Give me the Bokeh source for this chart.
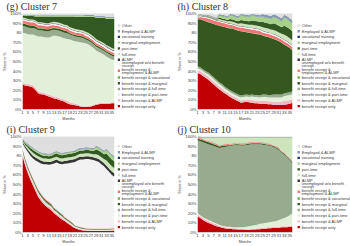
from bokeh.plotting import figure
from bokeh.models import ColumnDataSource, FixedTicker, Range1d
from bokeh.layouts import row, column
from bokeh.core.properties import value
from bokeh.embed import file_html
from bokeh.resources import INLINE

months = list(range(1, 37))
x_ticks = [1, 3, 5, 7, 9, 11, 13, 15, 17, 19, 21, 23, 25, 27, 29, 31, 33, 35]
y_ticks = [0, 10, 20, 30, 40, 50, 60, 70, 80, 90, 100]
y_tick_labels = ["0%", "10%", "20%", "30%", "40%", "50%", "60%", "70%", "80", "90%", "100%"]

# stacking order, bottom -> top
keys = ["benefit_only", "benefit_almp", "benefit_parttime", "benefit_fulltime", "benefit_marginal",
        "benefit_vocational", "benefit_emp_almp", "unemployed", "almp", "fulltime", "parttime",
        "marginal", "vocational", "employed_almp", "other"]
labels = ["benefit receipt only", "benefit receipt & ALMP", "benefit receipt & part-time",
          "benefit receipt & full-time", "benefit receipt & marginal", "benefit receipt & vocational",
          "benefit receipt &\nemployment & ALMP", "unemployed w/o benefit\nreceipt", "ALMP", "full-time",
          "part-time", "marginal employment", "vocational training", "Employed & ALMP", "Other"]
colors = ["#c00000", "#f4b8c2", "#e2efd9", "#97ab8f", "#35581f", "#70ad47", "#f07474", "#f2f2f2",
          "#363636", "#cde4bd", "#335a22", "#a9d18e", "#1f3864", "#8497b0", "#dedede"]

# ---------------- Cluster 7 ----------------
c7_benefit_only = [26, 25, 24.5, 24, 23, 20, 17, 16, 15.5, 14.5, 13.5, 12.5, 11.5, 11, 10, 9, 8, 6.5, 5.5, 5,
                   4.5, 4, 3, 2.5, 2.5, 2.5, 3, 4, 5, 5.5, 6, 6, 6, 6, 6.5, 6.5]
c7_benefit_almp = [2, 2, 2, 2, 2.5, 2.5, 2, 2, 2, 2, 2, 2, 2, 2, 2, 2, 2.5, 2.5, 2, 2,
                   1.5, 1.5, 1, 1, 1, 1, 1, 1, 1, 1, 1, 1, 1, 1, 1, 1]
c7_benefit_parttime = [52, 52.5, 52, 52, 52.5, 54.5, 57, 58, 58, 58.5, 59.5, 61.5, 63.5, 63.5, 64, 64, 63.5, 64.5, 65.5, 65,
                       65, 65, 66, 66, 65.5, 64.5, 62, 59, 55.5, 53.5, 51.5, 50, 48, 46.5, 44.5, 43.5]
c7_benefit_fulltime = [7, 7, 7, 7, 7, 7, 6.5, 6.5, 6.5, 6.5, 6.5, 6.5, 6, 6, 6, 6, 6, 6, 5, 5,
                       5, 5, 5, 5, 4, 4, 4, 4, 4, 4, 4, 4, 4, 4, 4, 4]
c7_benefit_marginal = [2.5, 2.5, 2.5, 2.5, 2.5, 2.5, 2, 2, 2, 2, 2, 2, 2, 2, 2, 2, 2, 2, 1.5, 1.5,
                       1.5, 1.5, 1.5, 1.5, 1.5, 1.5, 1.5, 1.5, 1.5, 1.5, 1.5, 1.5, 1.5, 1.5, 1.5, 1.5]
c7_benefit_vocational = [0.3, 0.3, 0.3, 0.3, 0.3, 0.3, 0.3, 0.3, 0.3, 0.3, 0.3, 0.3, 0.3, 0.3, 0.3, 0.3, 0.3, 0.3, 0.3, 0.3,
                         0.3, 0.3, 0.3, 0.3, 0.3, 0.3, 0.3, 0.3, 0.3, 0.3, 0.3, 0.3, 0.3, 0.3, 0.3, 0.3]
c7_benefit_emp_almp = [3, 3, 3, 3, 3, 3, 3, 3, 3, 3, 3, 3, 2.5, 2.5, 2.5, 2.5, 2.5, 2.5, 2.5, 2.5,
                       2.5, 2.5, 2.5, 2.5, 2, 2, 2, 2, 2, 2, 2, 2, 2, 2, 2, 2]
c7_unemployed = [1.5, 1.5, 1.5, 1.5, 1.5, 1.5, 1.5, 1.5, 1.5, 1.5, 1.5, 1.5, 1.5, 1.5, 1.5, 1.5, 1.5, 1.5, 1.5, 1.5,
                 1.5, 1.5, 1.5, 1.5, 2, 2, 2, 2, 2, 2, 2, 2, 2, 2, 2, 2]
c7_almp = [0.5, 0.5, 0.5, 0.5, 0.5, 0.5, 0.5, 0.5, 0.5, 0.5, 0.5, 0.5, 0.5, 0.5, 0.5, 0.5, 0.5, 0.5, 0.5, 0.5,
           0.5, 0.5, 0.5, 0.5, 0.7, 0.7, 0.7, 0.7, 0.7, 0.7, 0.7, 0.7, 0.7, 0.7, 0.7, 0.7]
c7_fulltime = [1, 1, 1, 1, 1, 1, 1, 1, 1, 1, 1, 1, 1.5, 1.5, 1.5, 1.5, 1.5, 1.5, 1.5, 1.5,
               1.5, 1.5, 1.5, 1.5, 1.5, 1.5, 1.5, 1.5, 1.5, 1.5, 1.5, 1.5, 1.5, 1.5, 1.5, 1.5]
c7_parttime = [1.7, 2.2, 3.2, 3.7, 3.7, 4.2, 6.2, 6.2, 6.7, 7.2, 7.2, 6.2, 5.7, 6.2, 6.7, 7.7, 8.7, 9.2, 11.2, 12.2,
               12.7, 13.2, 13.7, 14.2, 15.5, 16.5, 18.5, 20.5, 22, 23.5, 25, 26.5, 27.5, 29, 30.5, 31.5]
c7_marginal = [0.5, 0.5, 0.5, 0.5, 0.5, 0.5, 0.5, 0.5, 0.5, 0.5, 0.5, 0.5, 0.8, 0.8, 0.8, 0.8, 0.8, 0.8, 0.8, 0.8,
               0.8, 0.8, 0.8, 0.8, 0.8, 0.8, 0.8, 0.8, 0.8, 0.8, 0.8, 0.8, 0.8, 0.8, 0.8, 0.8]
c7_vocational = [0.2, 0.2, 0.2, 0.2, 0.2, 0.2, 0.2, 0.2, 0.2, 0.2, 0.2, 0.2, 0.2, 0.2, 0.2, 0.2, 0.2, 0.2, 0.2, 0.2,
                 0.2, 0.2, 0.2, 0.2, 0.2, 0.2, 0.2, 0.2, 0.2, 0.2, 0.2, 0.2, 0.2, 0.2, 0.2, 0.2]
c7_employed_almp = [0.5, 0.5, 0.5, 0.5, 0.5, 0.5, 0.5, 0.5, 0.5, 0.5, 0.5, 0.5, 0.8, 0.8, 0.8, 0.8, 0.8, 0.8, 0.8, 0.8,
                    0.8, 0.8, 0.8, 0.8, 1, 1, 1, 1, 1, 1, 1, 1, 1, 1, 1, 1]
c7_other = [2.5, 2.5, 2.5, 2.5, 2.5, 2.5, 2.5, 2.5, 2.5, 2.5, 2.5, 2.5, 2.5, 2.5, 2.5, 2.5, 2.5, 2.5, 2.5, 2.5,
            3, 3, 3, 3, 3, 3, 3, 3, 4, 4, 4, 4, 4.5, 4.5, 4.5, 4.5]

# ---------------- Cluster 8 ----------------
c8_benefit_only = [38, 37, 35, 33, 31, 28.5, 26, 23.5, 21, 19, 17, 15, 13, 11.5, 10, 8.5, 7, 7.5, 8, 7.5,
                   7, 6.5, 6.5, 6, 6, 6, 5.5, 5.5, 5, 5, 5, 5, 5, 5.5, 6, 7]
c8_benefit_almp = [3, 3, 3, 3, 3, 3, 3, 3, 3, 3, 2.5, 2.5, 2.5, 2.5, 2.5, 2.5, 2.5, 2.5, 2.5, 2.5,
                   3, 3, 3, 3, 3, 3, 3, 3, 3, 3, 3, 3, 4, 4, 4, 4]
c8_benefit_parttime = [2, 2, 2, 2, 2.5, 2.5, 2.5, 2.5, 2.5, 2.5, 2.5, 2.5, 2.5, 2.5, 2.5, 2.5, 3, 3, 3, 3,
                       3.5, 3.5, 3.5, 3.5, 4, 4, 4, 4, 4.5, 4.5, 4.5, 4.5, 5, 5, 5, 5]
c8_benefit_fulltime = [2, 2, 2, 2, 2, 2, 2, 2, 2, 2, 2, 2, 2, 2, 2, 2, 2, 2, 2, 2,
                       2, 2, 2, 2, 2.5, 2.5, 2.5, 2.5, 3, 3, 3, 3, 3, 3, 3, 3]
c8_benefit_marginal = [49, 50, 51, 52, 52.5, 54, 55.5, 57, 59, 60, 62, 63, 64.5, 65.5, 66, 66.5, 67, 66, 65, 65,
                       64, 64, 63.5, 63.5, 61.5, 60.5, 60.5, 59.5, 58, 57, 55.5, 54, 50.5, 48.5, 46, 42.5]
c8_benefit_vocational = [0.3, 0.3, 0.3, 0.3, 0.3, 0.3, 0.3, 0.3, 0.3, 0.3, 0.3, 0.3, 0.3, 0.3, 0.3, 0.3, 0.3, 0.3, 0.3, 0.3,
                         0.3, 0.3, 0.3, 0.3, 0.3, 0.3, 0.3, 0.3, 0.3, 0.3, 0.3, 0.3, 0.3, 0.3, 0.3, 0.3]
c8_benefit_emp_almp = [1.5, 2, 2.5, 3, 3.5, 3.5, 3.5, 3.5, 3.5, 3.5, 3.5, 3.5, 3.5, 3.5, 3.5, 3.5, 3.5, 3.5, 3.5, 3.5,
                       3.5, 3.5, 3.5, 3.5, 3, 3, 3, 3, 3, 3, 3, 3, 3, 3, 3, 3]
c8_unemployed = [1, 1, 1, 1, 1, 1, 1, 1, 1, 1, 1, 1, 1, 1, 1, 1, 1.5, 1.5, 1.5, 1.5,
                 1.5, 1.5, 1.5, 1.5, 1.5, 1.5, 1.5, 1.5, 1.5, 1.5, 1.5, 1.5, 1.5, 1.5, 1.5, 1.5]
c8_almp = [0.5, 0.5, 0.5, 0.5, 0.5, 0.5, 0.5, 0.5, 0.5, 0.5, 0.5, 0.5, 0.5, 0.5, 0.5, 0.5, 0.5, 0.5, 0.5, 0.5,
           0.5, 0.5, 0.5, 0.5, 0.5, 0.5, 0.5, 0.5, 0.5, 0.5, 0.5, 0.5, 0.5, 0.5, 0.5, 0.5]
c8_fulltime = [0.3, 0.3, 0.3, 0.3, 0.3, 0.3, 0.3, 0.3, 1.5, 1.5, 1.5, 1.5, 2, 2, 2, 2, 2.5, 2.5, 2.5, 2.5,
               3, 3, 3, 3, 3.5, 3.5, 3.5, 3.5, 4, 4, 4, 4, 5, 5, 5, 5]
c8_parttime = [0.2, 0.2, 0.2, 0.2, 0.5, 0.5, 0.5, 0.5, 1.5, 1.5, 1.5, 1.5, 2.5, 2.5, 2.5, 2.5, 3.5, 3.5, 3.5, 3.5,
               4.5, 4.5, 4.5, 4.5, 5.5, 5.5, 5.5, 5.5, 7, 7, 7, 7, 9.5, 9.5, 9.5, 9.5]
c8_marginal = [0.3, 0.3, 0.3, 0.3, 0.8, 0.8, 0.8, 0.8, 2.5, 2.5, 2.5, 2.5, 3.5, 3.5, 3.5, 3.5, 4.5, 4.5, 4.5, 4.5,
               5, 5, 5, 5, 5.5, 5.5, 5.5, 5.5, 6.5, 6.5, 6.5, 6.5, 8.5, 8.5, 8.5, 8.5]
c8_vocational = [0.3, 0.3, 0.3, 0.3, 0.3, 0.3, 0.3, 0.3, 0.3, 0.3, 0.3, 0.3, 0.3, 0.3, 0.3, 0.3, 0.3, 0.3, 0.3, 0.3,
                 0.3, 0.3, 0.3, 0.3, 0.3, 0.3, 0.3, 0.3, 0.3, 0.3, 0.3, 0.3, 0.3, 0.3, 0.3, 0.3]
c8_employed_almp = [0.5, 0.5, 0.5, 0.5, 0.5, 0.5, 0.5, 0.5, 1, 1, 1, 1, 1.5, 1.5, 1.5, 1.5, 1.5, 1.5, 1.5, 1.5,
                    1.5, 1.5, 1.5, 1.5, 2.5, 2.5, 2.5, 2.5, 2.5, 2.5, 2.5, 2.5, 2.5, 2.5, 2.5, 2.5]
c8_other = [3, 3, 3, 3, 3, 3, 3, 3, 3, 3, 4, 4, 4, 4, 4, 4, 4, 4, 4, 4,
            5, 5, 5, 5, 5, 5, 5, 5, 9, 9, 9, 9, 9, 9, 9, 9]

# ---------------- Cluster 9 ----------------
c9_benefit_only = [80, 70, 62, 55, 49, 43, 37, 33, 30, 27, 25, 23, 20, 18, 15.5, 13.5, 12, 10, 8, 6,
                   4.5, 3.5, 2.5, 2, 1.8, 1.6, 1.5, 1.5, 1.5, 1.5, 1.5, 1.5, 1.5, 1.5, 1.8, 2]
c9_benefit_almp = [2.5, 2.5, 2.5, 2.5, 2.5, 2.5, 2.5, 2.5, 2, 2, 2, 2, 1.8, 1.8, 1.8, 1.8, 1.2, 1.2, 1.2, 1.2,
                   0.8, 0.8, 0.8, 0.8, 0.7, 0.7, 0.7, 0.7, 0.7, 0.7, 0.7, 0.7, 0.7, 0.7, 0.7, 0.7]
c9_benefit_parttime = [1.5, 1.5, 1.5, 1.5, 1.5, 1.5, 1.5, 1.5, 1.5, 1.5, 1.5, 1.5, 1.2, 1.2, 1.2, 1.2, 1, 1, 1, 1,
                       0.8, 0.8, 0.8, 0.8, 0.7, 0.7, 0.7, 0.7, 0.7, 0.7, 0.7, 0.7, 0.7, 0.7, 0.7, 0.7]
c9_benefit_fulltime = [1, 1, 1, 1, 1, 1, 1, 1, 1, 1, 1, 1, 0.8, 0.8, 0.8, 0.8, 0.5, 0.5, 0.5, 0.5,
                       0.3, 0.3, 0.3, 0.3, 0.3, 0.3, 0.3, 0.3, 0.3, 0.3, 0.3, 0.3, 0.3, 0.3, 0.3, 0.3]
c9_benefit_marginal = [1.5, 1.5, 1.5, 1.5, 1.5, 1.5, 1.5, 1.5, 1.5, 1.5, 1.5, 1.5, 1.2, 1.2, 1.2, 1.2, 1, 1, 1, 1,
                       0.7, 0.7, 0.7, 0.7, 0.5, 0.5, 0.5, 0.5, 0.5, 0.5, 0.5, 0.5, 0.5, 0.5, 0.5, 0.5]
c9_benefit_vocational = [0.3, 0.3, 0.3, 0.3, 0.3, 0.3, 0.3, 0.3, 0.3, 0.3, 0.3, 0.3, 0.2, 0.2, 0.2, 0.2, 0.2, 0.2, 0.2, 0.2,
                         0.2, 0.2, 0.2, 0.2, 0.2, 0.2, 0.2, 0.2, 0.2, 0.2, 0.2, 0.2, 0.2, 0.2, 0.2, 0.2]
c9_benefit_emp_almp = [1, 1, 1, 1, 1, 1, 1, 1, 1, 1, 1, 1, 0.8, 0.8, 0.8, 0.8, 0.5, 0.5, 0.5, 0.5,
                       0.3, 0.3, 0.3, 0.3, 0.3, 0.3, 0.3, 0.3, 0.3, 0.3, 0.3, 0.3, 0.3, 0.3, 0.3, 0.3]
c9_unemployed = [5.2, 10.2, 14.2, 17.2, 20.2, 24.2, 28.7, 31.2, 33.7, 36.7, 38.2, 40.7, 46, 49, 50, 51.5, 55.1, 57.6, 60.1, 62.6,
                 65.9, 68.4, 70.4, 70.9, 72, 72.2, 71.8, 71.3, 70.3, 69.3, 66.8, 64.8, 61.8, 58.8, 55.5, 53.3]
c9_almp = [1.5, 2, 2.5, 3, 3, 3, 3, 3, 3, 3, 3, 3, 3, 3, 3, 3, 3, 3, 3, 3,
           3, 3, 3, 3, 3, 3, 3, 3, 3, 3, 3.5, 3.5, 3.5, 3.5, 3.5, 3.5]
c9_fulltime = [1, 1.5, 2, 2.5, 3, 3, 3, 3, 3, 3, 3, 3, 3, 3, 3, 3, 3, 3, 3, 3,
               3, 3, 3, 3, 3, 3, 3, 3, 4, 4, 4, 4, 5.5, 5.5, 5.5, 5.5]
c9_parttime = [1, 1.5, 2, 2.5, 3, 3, 3, 3, 3, 3, 3, 3, 3.5, 3.5, 3.5, 3.5, 3.5, 3.5, 3.5, 3.5,
               3.5, 3.5, 3.5, 3.5, 3.5, 3.5, 3.5, 3.5, 5, 5, 5, 5, 7, 7, 7, 7]
c9_marginal = [0.5, 1, 1.2, 1.5, 1.5, 1.5, 1.5, 1.5, 1.5, 1.5, 1.5, 1.5, 1.5, 1.5, 1.5, 1.5, 1.5, 1.5, 1.5, 1.5,
               1.5, 1.5, 1.5, 1.5, 1.5, 1.5, 1.5, 1.5, 2.5, 2.5, 2.5, 2.5, 4, 4, 4, 4]
c9_vocational = [0.3, 0.3, 0.3, 0.3, 0.3, 0.3, 0.3, 0.3, 0.3, 0.3, 0.3, 0.3, 0.3, 0.3, 0.3, 0.3, 0.3, 0.3, 0.3, 0.3,
                 0.3, 0.3, 0.3, 0.3, 0.3, 0.3, 0.3, 0.3, 0.3, 0.3, 0.3, 0.3, 0.3, 0.3, 0.3, 0.3]
c9_employed_almp = [0.5, 0.7, 0.7, 0.7, 0.7, 0.7, 0.7, 0.7, 0.7, 0.7, 0.7, 0.7, 0.7, 0.7, 0.7, 0.7, 0.7, 0.7, 0.7, 0.7,
                    1, 1, 1, 1, 1, 1, 1, 1, 1, 1, 1, 1, 1, 1, 1, 1]
c9_other = [3, 6, 8, 10, 13, 15, 16, 18, 20, 20, 20, 20, 20, 20, 20, 20, 20, 20, 20, 20,
            16, 16, 16, 16, 16, 16, 16, 16, 16, 16, 22, 22, 22, 22, 22, 22]

# ---------------- Cluster 10 ----------------
c10_benefit_only = [17, 15, 13, 11.5, 10, 9, 7.5, 6.5, 6, 5, 4.5, 4, 4, 3.5, 3.5, 3, 3, 3, 2.5, 2.5,
                    3, 3, 3.5, 3.5, 4, 4, 4.5, 4.5, 5, 5, 5, 5.5, 5.5, 5.5, 6, 6]
c10_benefit_almp = [2, 2, 2, 2, 2, 2, 2, 2, 1, 1, 1, 1, 1, 1, 1, 1, 1, 1, 1, 1,
                    1, 1, 1, 1, 1, 1, 1, 1, 1, 1, 1, 1, 1, 1, 1, 1]
c10_benefit_parttime = [1, 1, 1, 1, 1, 1, 1, 1, 1, 1, 1, 1, 1, 1, 1, 1.5, 1.5, 1.5, 2.5, 3,
                        3, 3.5, 3.5, 4.5, 4.5, 5, 5, 5.5, 5.5, 6, 7, 7.5, 8.5, 10, 11, 13]
c10_benefit_fulltime = [76, 77, 78, 78.5, 79, 79, 79.5, 79.5, 80, 81.5, 82.5, 83.5, 84, 85, 85.5, 85.5, 85, 85, 85, 85,
                        85, 84.5, 84, 83, 82, 81, 80, 79, 77.5, 75.5, 73, 69, 66, 61.5, 57, 52]
c10_benefit_marginal = [2, 2, 2, 2, 2, 2, 2, 2, 1.5, 1.5, 1.5, 1.5, 1, 1, 1, 1, 1, 1, 1, 1,
                        1, 1, 1, 1, 1, 1, 1, 1, 1, 1, 1, 1, 1, 1, 1, 1]
c10_benefit_vocational = [0.2, 0.2, 0.2, 0.2, 0.2, 0.2, 0.2, 0.2, 0.2, 0.2, 0.2, 0.2, 0.2, 0.2, 0.2, 0.2, 0.2, 0.2, 0.2, 0.2,
                          0.2, 0.2, 0.2, 0.2, 0.2, 0.2, 0.2, 0.2, 0.2, 0.2, 0.2, 0.2, 0.2, 0.2, 0.2, 0.2]
c10_benefit_emp_almp = [1, 1, 1, 1, 1, 1, 1, 1, 1, 1, 1, 1, 0.8, 0.8, 0.8, 0.8, 0.8, 0.8, 0.8, 0.8,
                        0.8, 0.8, 0.8, 0.8, 0.8, 0.8, 0.8, 0.8, 0.8, 0.8, 0.8, 0.8, 0.8, 0.8, 0.8, 0.8]
c10_unemployed = [0.3, 0.3, 0.3, 0.3, 0.3, 0.3, 0.3, 0.3, 0.3, 0.3, 0.3, 0.3, 0.3, 0.3, 0.3, 0.3, 0.3, 0.3, 0.3, 0.3,
                  0.3, 0.3, 0.3, 0.3, 0.3, 0.3, 0.3, 0.3, 0.3, 0.3, 0.3, 0.3, 0.3, 0.3, 0.3, 0.3]
c10_almp = [0.2, 0.2, 0.2, 0.2, 0.2, 0.2, 0.2, 0.2, 0.2, 0.2, 0.2, 0.2, 0.2, 0.2, 0.2, 0.2, 0.2, 0.2, 0.2, 0.2,
            0.2, 0.2, 0.2, 0.2, 0.2, 0.2, 0.2, 0.2, 0.2, 0.2, 0.2, 0.2, 0.2, 0.2, 0.2, 0.2]
c10_fulltime = [0.3, 0.3, 0.8, 1.8, 2.8, 3.8, 4.8, 5.8, 7.3, 6.8, 6.3, 5.8, 6, 5.5, 5, 5, 5.5, 5.5, 5, 4.5,
                4, 4, 4, 4, 4.5, 5, 5.5, 6, 7, 8.5, 10, 13, 15, 18, 21, 24]
c10_parttime = [0.3, 0.3, 0.3, 0.3, 0.3, 0.3, 0.3, 0.3, 0.3, 0.3, 0.3, 0.3, 0.3, 0.3, 0.3, 0.3, 0.3, 0.3, 0.3, 0.3,
                0.3, 0.3, 0.3, 0.3, 0.3, 0.3, 0.3, 0.3, 0.3, 0.3, 0.3, 0.3, 0.3, 0.3, 0.3, 0.3]
c10_marginal = [0.3, 0.3, 0.3, 0.3, 0.3, 0.3, 0.3, 0.3, 0.3, 0.3, 0.3, 0.3, 0.3, 0.3, 0.3, 0.3, 0.3, 0.3, 0.3, 0.3,
                0.3, 0.3, 0.3, 0.3, 0.3, 0.3, 0.3, 0.3, 0.3, 0.3, 0.3, 0.3, 0.3, 0.3, 0.3, 0.3]
c10_vocational = [0.2, 0.2, 0.2, 0.2, 0.2, 0.2, 0.2, 0.2, 0.2, 0.2, 0.2, 0.2, 0.2, 0.2, 0.2, 0.2, 0.2, 0.2, 0.2, 0.2,
                  0.2, 0.2, 0.2, 0.2, 0.2, 0.2, 0.2, 0.2, 0.2, 0.2, 0.2, 0.2, 0.2, 0.2, 0.2, 0.2]
c10_employed_almp = [0.2, 0.2, 0.2, 0.2, 0.2, 0.2, 0.2, 0.2, 0.2, 0.2, 0.2, 0.2, 0.2, 0.2, 0.2, 0.2, 0.2, 0.2, 0.2, 0.2,
                     0.2, 0.2, 0.2, 0.2, 0.2, 0.2, 0.2, 0.2, 0.2, 0.2, 0.2, 0.2, 0.2, 0.2, 0.2, 0.2]
c10_other = [2, 2, 2, 2, 2, 2, 2, 2, 2, 2, 2, 2, 2, 2, 2, 2, 2, 2, 2, 2,
             2, 2, 2, 2, 2, 2, 2, 2, 2, 2, 2, 2, 2, 2, 2, 2]

clusters = {
    7: [c7_benefit_only, c7_benefit_almp, c7_benefit_parttime, c7_benefit_fulltime, c7_benefit_marginal,
        c7_benefit_vocational, c7_benefit_emp_almp, c7_unemployed, c7_almp, c7_fulltime, c7_parttime,
        c7_marginal, c7_vocational, c7_employed_almp, c7_other],
    8: [c8_benefit_only, c8_benefit_almp, c8_benefit_parttime, c8_benefit_fulltime, c8_benefit_marginal,
        c8_benefit_vocational, c8_benefit_emp_almp, c8_unemployed, c8_almp, c8_fulltime, c8_parttime,
        c8_marginal, c8_vocational, c8_employed_almp, c8_other],
    9: [c9_benefit_only, c9_benefit_almp, c9_benefit_parttime, c9_benefit_fulltime, c9_benefit_marginal,
        c9_benefit_vocational, c9_benefit_emp_almp, c9_unemployed, c9_almp, c9_fulltime, c9_parttime,
        c9_marginal, c9_vocational, c9_employed_almp, c9_other],
    10: [c10_benefit_only, c10_benefit_almp, c10_benefit_parttime, c10_benefit_fulltime, c10_benefit_marginal,
         c10_benefit_vocational, c10_benefit_emp_almp, c10_unemployed, c10_almp, c10_fulltime, c10_parttime,
         c10_marginal, c10_vocational, c10_employed_almp, c10_other],
}
titles = {7: "(g) Cluster 7", 8: "(h) Cluster 8", 9: "(i) Cluster 9", 10: "(j) Cluster 10"}

bad = [(c, i, len(s)) for c, ss in clusters.items() for i, s in enumerate(ss) if len(s) != 36]
if bad:
    raise ValueError("bad lengths: %s" % bad)

SANS = "Liberation Sans"
TXT = "#3a3a3a"

# legend rows (top -> bottom), y position in panel pixels (top row)
legend_y_top = [15.3, 22.7, 30, 37.3, 44.7, 52, 59.3, 65, 73.3, 82, 89.3, 96.7, 104, 111.3, 118.7]


def make_plot(cid, row_idx, col_idx):
    left = 16 if col_idx == 0 else 20
    width = 117 if col_idx == 0 else 120
    top = 13 if row_idx == 0 else 12
    bottom = 123 - top - 100
    p = figure(width=width, height=123, x_range=Range1d(1, 36), y_range=Range1d(0, 100),
               output_backend="svg", toolbar_location=None,
               min_border_left=left, min_border_right=width - left - (97 if col_idx else 98),
               min_border_top=top, min_border_bottom=bottom)
    src = ColumnDataSource(dict(month=months, **{k: v for k, v in zip(keys, clusters[cid])}))
    p.varea_stack(stackers=keys, x="month", color=colors, source=src)
    p.xgrid.visible = False
    p.ygrid.visible = False
    p.outline_line_color = None
    p.background_fill_color = "white"
    p.border_fill_color = "white"

    p.xaxis.ticker = FixedTicker(ticks=x_ticks)
    p.yaxis.ticker = FixedTicker(ticks=y_ticks)
    p.yaxis.major_label_overrides = {t: l for t, l in zip(y_ticks, y_tick_labels)}
    for ax in (p.xaxis[0], p.yaxis[0]):
        ax.major_tick_line_color = None
        ax.minor_tick_line_color = None
        ax.major_tick_out = 0
        ax.major_tick_in = 0
        ax.minor_tick_out = 0
        ax.minor_tick_in = 0
        ax.major_label_standoff = 1
        ax.axis_label_standoff = 0
        ax.major_label_text_font = SANS
        ax.major_label_text_color = TXT
        ax.axis_label_text_font = SANS
        ax.axis_label_text_color = TXT
        ax.axis_label_text_font_style = "normal"
        ax.axis_label_text_font_size = "3.8px"
    p.xaxis.major_label_text_font_size = "4.2px"
    p.yaxis.major_label_text_font_size = "4.4px"
    p.xaxis.axis_line_color = "#d0d0d0"
    p.yaxis.axis_line_color = None
    p.xaxis.axis_label = "Months"
    p.yaxis.axis_label = "Share in %"

    p.title.text = titles[cid]
    p.title.text_font = "Liberation Serif"
    p.title.text_font_size = "10px"
    p.title.text_font_style = "normal"
    p.title.text_color = "#333333"
    p.title.align = "left"
    p.title.offset = -left
    p.title.standoff = 0
    p.title.vertical_align = "top"
    return p


def make_legend(row_idx, col_idx):
    lw = 58 if col_idx == 0 else 55
    mx = 1.3 if col_idx == 0 else 3.2
    tx = 4.3 if col_idx == 0 else 6.3
    shift = 0 if row_idx == 0 else -2.6
    lg = figure(width=lw, height=123, x_range=Range1d(0, lw), y_range=Range1d(123, 0),
                output_backend="svg", toolbar_location=None, x_axis_type=None, y_axis_type=None,
                min_border=0)
    lg.outline_line_color = None
    lg.xgrid.visible = False
    lg.ygrid.visible = False
    lab_rev = list(reversed(labels))
    col_rev = list(reversed(colors))
    ys = [y + shift for y in legend_y_top]
    lg.scatter(x=[mx] * len(ys), y=ys, marker="square", size=2.4, color=col_rev, line_color=None)
    tx_list, ty_list, tt = [], [], []
    for lab, y in zip(lab_rev, ys):
        parts = lab.split("\n")
        if len(parts) == 1:
            tx_list.append(tx); ty_list.append(y); tt.append(lab)
        else:
            tx_list += [tx, tx]; ty_list += [y - 2.1, y + 2.1]; tt += parts
    lg.text(x=tx_list, y=ty_list, text=tt, text_font=value(SANS), text_font_size="4px",
            text_baseline="middle", text_align="left", text_color=TXT)
    return lg


rows = []
for r, pair in enumerate([(7, 8), (9, 10)]):
    items = []
    for c, cid in enumerate(pair):
        items.append(make_plot(cid, r, c))
        items.append(make_legend(r, c))
    rows.append(row(*items, spacing=0))
layout = column(*rows, spacing=0)

open("out.html", "w").write(file_html(layout, INLINE))
